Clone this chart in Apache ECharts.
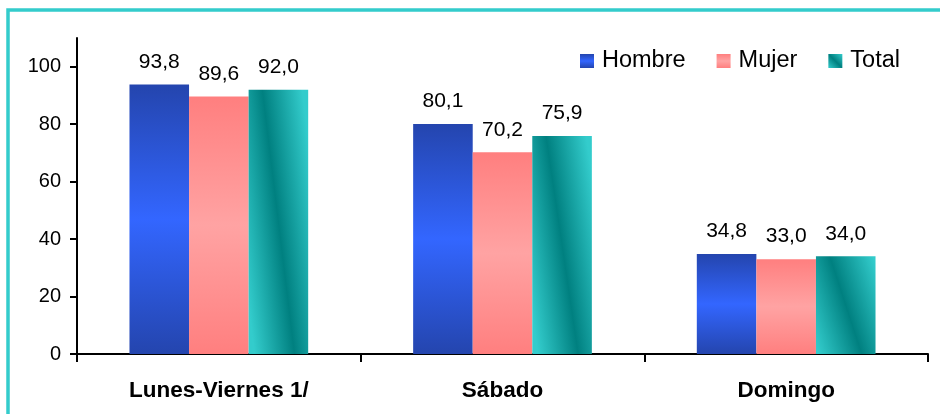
<!DOCTYPE html>
<html>
<head>
<meta charset="utf-8">
<script src="https://cdn.jsdelivr.net/npm/echarts@6/dist/echarts.min.js"></script>
<style>
html,body{margin:0;padding:0;background:#fff;}
#main{width:940px;height:414px;}
</style>
</head>
<body>
<div id="main"></div>
<script>
const categories = ['Lunes-Viernes 1/', 'Sábado', 'Domingo'];
const hombre = [93.8, 80.1, 34.8];
const mujer = [89.6, 70.2, 33.0];
const total = [92.0, 75.9, 34.0];
const yTicks = [0, 20, 40, 60, 80, 100];

const font = 'Liberation Sans, Arial, sans-serif';
const chart = echarts.init(document.getElementById('main'));

const gridTop = 38, gridBottom = 60, yMax = 110;
const pxPerUnit = (414 - gridTop - gridBottom) / yMax;
const barW = 59;

function grad(stops, x0, y0, x1, y1) {
  return new echarts.graphic.LinearGradient(x0, y0, x1, y1,
    stops.map(c => ({ offset: c[0], color: c[1] })));
}
const colHombre = grad([[0, '#2445AE'], [0.5, '#3366FF'], [1, '#2445AE']], 0, 0, 0, 1);
const colMujer = grad([[0, '#FF7F7F'], [0.5, '#FFA3A3'], [1, '#FF7F7F']], 0, 0, 0, 1);
const tealStops = [[0, '#33CCCC'], [0.17, '#33CCCC'], [0.5, '#008080'], [0.83, '#33CCCC'], [1, '#33CCCC']];

// diagonal stripe whose slant follows the bar's normalised box
function tealFor(v) {
  const h = v * pxPerUnit;
  const shift = 0.55 * barW;
  const span = 2 * barW;
  const k = span * shift / (h * h);
  return grad(tealStops, -0.5, 0.5 + k / 2, 1.5, 0.5 - k / 2);
}

const label = {
  show: true, position: 'top', distance: 12,
  color: '#000', fontFamily: font, fontSize: 21,
  formatter: p => p.value.toFixed(1).replace('.', ',')
};

chart.setOption({
  animation: false,
  backgroundColor: '#fff',
  graphic: [{
    type: 'rect', silent: true, z: 100,
    shape: { x: 8, y: 10, width: 1000, height: 500 },
    style: { fill: 'none', stroke: '#33CCCC', lineWidth: 3.5 }
  }],
  legend: {
    top: 44, left: 575, itemWidth: 14, itemHeight: 14, itemGap: 31,
    icon: 'rect',
    textStyle: { fontFamily: font, fontSize: 23.5, color: '#000', padding: [0, 0, 0, 3] },
    data: ['Hombre', 'Mujer', 'Total']
  },
  grid: { left: 77, right: 12, top: gridTop, bottom: gridBottom },
  xAxis: {
    type: 'category', data: categories,
    axisLine: { lineStyle: { color: '#000', width: 2 } },
    axisTick: { show: true, length: 8, lineStyle: { color: '#000', width: 2 } },
    axisLabel: { fontFamily: font, fontSize: 22.5, fontWeight: 'bold', color: '#000', margin: 25 }
  },
  yAxis: {
    type: 'value', min: 0, max: yMax, interval: 20,
    splitLine: { show: false },
    axisLine: { show: true, lineStyle: { color: '#000', width: 2 } },
    axisTick: { show: true, length: 7, customValues: yTicks, lineStyle: { color: '#000', width: 2 } },
    axisLabel: { fontFamily: font, fontSize: 20, color: '#000', margin: 16, customValues: yTicks }
  },
  series: [
    { name: 'Hombre', type: 'bar', data: hombre, itemStyle: { color: colHombre }, label,
      barGap: '0%', barCategoryGap: '37%' },
    { name: 'Mujer', type: 'bar', data: mujer, itemStyle: { color: colMujer }, label },
    { name: 'Total', type: 'bar',
      data: total.map(v => ({ value: v, itemStyle: { color: tealFor(v) } })),
      itemStyle: { color: grad([[0, '#33CCCC'], [0.5, '#008080'], [1, '#33CCCC']], 1, 0, 0, 1) },
      label }
  ]
});
</script>
</body>
</html>
